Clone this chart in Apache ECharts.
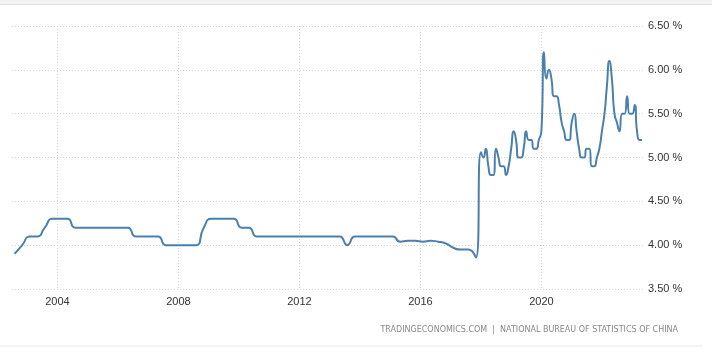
<!DOCTYPE html>
<html><head><meta charset="utf-8">
<script src="https://cdn.jsdelivr.net/npm/echarts@6/dist/echarts.min.js"></script>
<style>html,body{margin:0;padding:0;background:#fff}#c{width:712px;height:356px}</style>
</head><body><div id="c"></div>
<script>
// Quarterly registered unemployment (2002-2017)
const quarterlyDates = [
  '2002-08','2002-11',
  '2003-02','2003-05','2003-08','2003-11',
  '2004-02','2004-05','2004-08','2004-11',
  '2005-02','2005-05','2005-08','2005-11',
  '2006-02','2006-05','2006-08','2006-11',
  '2007-02','2007-05','2007-08','2007-11',
  '2008-02','2008-05','2008-08','2008-11',
  '2009-02','2009-05','2009-08','2009-11',
  '2010-02','2010-05','2010-08','2010-11',
  '2011-02','2011-05','2011-08','2011-11',
  '2012-02','2012-05','2012-08','2012-11',
  '2013-02','2013-05','2013-08','2013-11',
  '2014-02','2014-05','2014-08','2014-11',
  '2015-02','2015-05','2015-08','2015-11',
  '2016-02','2016-05','2016-08','2016-11',
  '2017-02','2017-05','2017-08','2017-11'
];
const quarterlyValues = [
  3.9, 4.0,
  4.1, 4.1, 4.2, 4.3,
  4.3, 4.3, 4.2, 4.2,
  4.2, 4.2, 4.2, 4.2,
  4.2, 4.2, 4.1, 4.1,
  4.1, 4.1, 4.0, 4.0,
  4.0, 4.0, 4.0, 4.2,
  4.3, 4.3, 4.3, 4.3,
  4.2, 4.2, 4.1, 4.1,
  4.1, 4.1, 4.1, 4.1,
  4.1, 4.1, 4.1, 4.1,
  4.1, 4.1, 4.0, 4.1,
  4.1, 4.1, 4.1, 4.1,
  4.1, 4.04, 4.05, 4.05,
  4.04, 4.05, 4.04, 4.02,
  3.97, 3.95, 3.95, 3.86
];
// Monthly surveyed unemployment (2018-2023)
const monthlyDates = [
  '2018-01','2018-02','2018-03','2018-04','2018-05','2018-06','2018-07','2018-08','2018-09','2018-10','2018-11','2018-12',
  '2019-01','2019-02','2019-03','2019-04','2019-05','2019-06','2019-07','2019-08','2019-09','2019-10','2019-11','2019-12',
  '2020-01','2020-02','2020-03','2020-04','2020-05','2020-06','2020-07','2020-08','2020-09','2020-10','2020-11','2020-12',
  '2021-01','2021-02','2021-03','2021-04','2021-05','2021-06','2021-07','2021-08','2021-09','2021-10','2021-11','2021-12',
  '2022-01','2022-02','2022-03','2022-04','2022-05','2022-06','2022-07','2022-08','2022-09','2022-10','2022-11','2022-12',
  '2023-01','2023-02','2023-03','2023-04','2023-05'
];
const monthlyValues = [
  5.06, 5.0, 5.1, 4.9, 4.8, 4.8, 5.1, 5.0, 4.9, 4.9, 4.8, 4.9,
  5.1, 5.3, 5.2, 5.0, 5.0, 5.1, 5.3, 5.2, 5.2, 5.1, 5.1, 5.2,
  5.3, 6.2, 5.9, 6.0, 5.9, 5.7, 5.7, 5.6, 5.4, 5.3, 5.2, 5.2,
  5.4, 5.5, 5.3, 5.1, 5.0, 5.0, 5.1, 5.1, 4.9, 4.9, 5.0, 5.1,
  5.3, 5.5, 5.8, 6.1, 5.9, 5.5, 5.4, 5.3, 5.5, 5.5, 5.7, 5.5,
  5.5, 5.6, 5.3, 5.2, 5.2
];
const xTickYears = ['2004', '2008', '2012', '2016', '2020'];
const yTicks = [3.5, 4.0, 4.5, 5.0, 5.5, 6.0, 6.5];
const sourceText = 'TRADINGECONOMICS.COM  |  NATIONAL BUREAU OF STATISTICS OF CHINA';

function ts(s) { const p = s.split('-'); return Date.UTC(+p[0], +p[1] - 1, +(p[2] || 1)); }
const seriesData = quarterlyDates.map((d, i) => [ts(d), quarterlyValues[i]])
  .concat(monthlyDates.map((d, i) => [ts(d), monthlyValues[i]]));
const xTickValues = xTickYears.map(y => ts(y + '-01-01'));

const chart = echarts.init(document.getElementById('c'), null, { renderer: 'canvas' });
const gridColor = '#d4d4d4';
chart.setOption({
  animation: false,
  backgroundColor: '#fff',
  grid: { left: 12, right: 69, top: 26, bottom: 67, outerBoundsMode: 'none', containLabel: false },
  xAxis: {
    type: 'value',
    min: ts('2002-07-01'),
    max: ts('2023-05-12'),
    axisLine: { show: false },
    axisTick: { show: false, customValues: xTickValues },
    axisLabel: {
      customValues: xTickValues,
      formatter: v => String(new Date(v).getUTCFullYear()),
      color: '#333', fontSize: 11, fontFamily: 'Liberation Sans, Arial, sans-serif', margin: 7
    },
    splitLine: { show: true, lineStyle: { color: gridColor, type: [1, 2], width: 1 } }
  },
  yAxis: {
    type: 'value',
    position: 'right',
    min: yTicks[0], max: yTicks[yTicks.length - 1], interval: 0.5,
    axisLine: { show: false },
    axisTick: { show: false },
    axisLabel: {
      formatter: v => v.toFixed(2) + ' %',
      color: '#333', fontSize: 11, fontFamily: 'Liberation Sans, Arial, sans-serif', margin: 5
    },
    splitLine: { show: true, lineStyle: { color: gridColor, type: [1, 2], width: 1 } }
  },
  series: [{
    type: 'line',
    data: seriesData,
    smooth: 0.6,
    showSymbol: false,
    symbol: 'none',
    lineStyle: { color: '#4a80ad', width: 2 },
    itemStyle: { color: '#4a80ad' }
  }],
  graphic: [
    { type: 'rect', shape: { x: 0, y: 0, width: 712, height: 4 }, style: { fill: '#f2f2f2' }, silent: true },
    { type: 'rect', shape: { x: 0, y: 4, width: 712, height: 1 }, style: { fill: '#e2e2e2' }, silent: true },
    { type: 'rect', shape: { x: 0, y: 345, width: 703, height: 2 }, style: { fill: '#f4f4f4' }, silent: true },
    { type: 'text', right: 34, top: 326, style: { text: sourceText, fill: '#888', fontSize: 8, fontFamily: 'DejaVu Sans, sans-serif' }, silent: true }
  ]
});
</script>
</body></html>
